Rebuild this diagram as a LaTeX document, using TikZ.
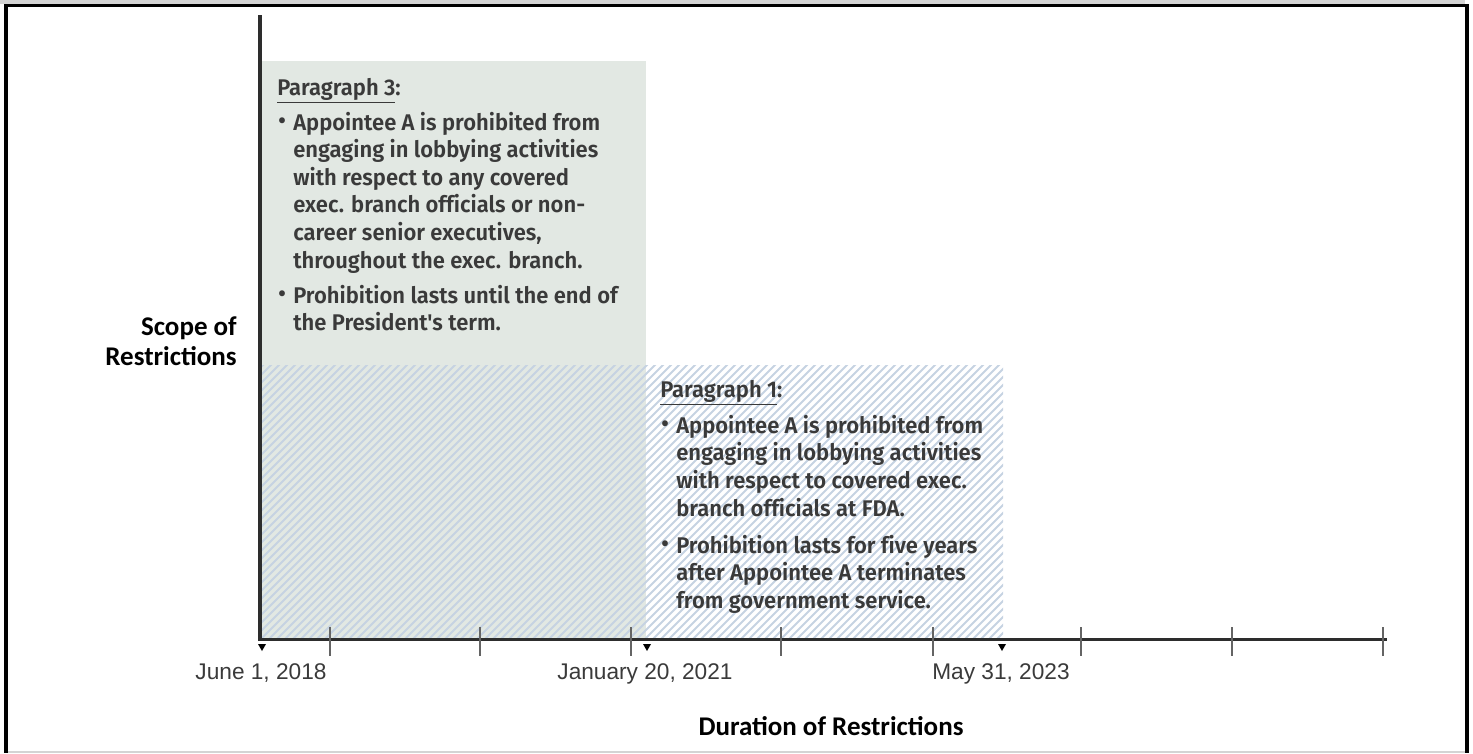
\documentclass[tikz,border=0pt]{standalone}
\usepackage{fontspec}
\newfontfamily\arialf{Liberation Sans}
\newfontfamily\calibf{Carlito}
\newfontfamily\dinf{Fira Sans}[BoldFont={Fira Sans SemiBold}, Ligatures={NoCommon}, FakeStretch=0.97]
\newdimen\pxu \pxu=0.75pt
\definecolor{boxgray}{RGB}{226,232,227}
\definecolor{hatchc}{RGB}{198,211,226}
\definecolor{txtgray}{RGB}{58,58,58}
\definecolor{axisc}{RGB}{45,45,45}
\definecolor{tickc}{RGB}{100,100,100}
\definecolor{framegray}{RGB}{212,212,212}
\tikzset{
  datelabel/.style={font=\arialf\fontsize{17}{20}\selectfont, text=txtgray, inner sep=0pt, anchor=base},
  axislabel/.style={font=\calibf\bfseries\fontsize{20.25}{22.5}\selectfont, text=black, inner sep=0pt},
  paratext/.style={font=\dinf\bfseries\fontsize{17}{20.7}\selectfont, text=txtgray, inner sep=0pt, anchor=base west},
  tickline/.style={draw=tickc, line width=2\pxu},
  marker/.style={fill=black},
  hatchline/.style={draw=hatchc, line width=2\pxu}
}
\newcommand{\bul}{\makebox[16\pxu][l]{\hspace{1\pxu}\raisebox{0.15ex}{\textbullet}}}
\begin{document}
\begin{tikzpicture}[x=0.75pt,y=-0.75pt]
\useasboundingbox (0,0) rectangle (1473,753);
% frame
\fill[framegray] (0,0) rectangle (1465,4);
\draw[line width=3\pxu] (4,5.5) -- (1469,5.5);
\draw[line width=4\pxu] (6,4) -- (6,753);
\draw[line width=4\pxu] (1467,4) -- (1467,753);
\draw[framegray, line width=2\pxu] (8,751.5) -- (1465,751.5);
% gray region
\fill[boxgray] (262,61) rectangle (646,639);
% hatch
\begin{scope}
\clip (262,365) rectangle (1003,638);
\foreach \i in {0,...,135} {
  \draw[hatchline] ({262-290+8*\i},640) -- ++(290,-290);
}
\end{scope}
% axes
\coordinate (ytop) at (260,15);
\coordinate (O) at (260,639.5);
\coordinate (xend) at (1387,639.5);
\draw[axisc, line width=3.5\pxu] (ytop) -- (O) -- (xend);
% ticks
\foreach \x in {330,480,631,781,933,1081,1232,1383} {
  \draw[tickline] (\x,627) -- (\x,656);
}
% markers
\foreach \x in {262,647,1002} {
  \fill[marker] (\x-4,644) -- (\x+4,644) -- (\x,651) -- cycle;
}
% date labels
\node[datelabel] (d1) at (261,679) {June 1, 2018};
\node[datelabel] (d2) at (645,679) {January 20, 2021};
\node[datelabel] (d3) at (1001,679) {May 31, 2023};
% axis labels
\node[axislabel, anchor=east, align=right] (ylab) at (237,341) {Scope of\\Restrictions};
\node[axislabel, anchor=base] (xlab) at (831,735) {Duration of Restrictions};
% paragraph 3
\node[paratext] (p3) at (277,95) {\begin{tabular}[t]{@{}l@{}}
\underline{Paragraph 3}:\\[5.6pt]
\bul Appointee A is prohibited from\\
\hspace*{16\pxu}engaging in lobbying activities\\
\hspace*{16\pxu}with respect to any covered\\
\hspace*{16\pxu}exec. branch officials or non-\\
\hspace*{16\pxu}career senior executives,\\
\hspace*{16\pxu}throughout the exec. branch.\\[5.6pt]
\bul Prohibition lasts until the end of\\
\hspace*{16\pxu}the President's term.
\end{tabular}};
% paragraph 1
\node[paratext] (p1) at (660,397) {\begin{tabular}[t]{@{}l@{}}
\underline{Paragraph 1}:\\[6.5pt]
\bul Appointee A is prohibited from\\
\hspace*{16\pxu}engaging in lobbying activities\\
\hspace*{16\pxu}with respect to covered exec.\\
\hspace*{16\pxu}branch officials at FDA.\\[7pt]
\bul Prohibition lasts for five years\\
\hspace*{16\pxu}after Appointee A terminates\\
\hspace*{16\pxu}from government service.
\end{tabular}};
\end{tikzpicture}
\end{document}
